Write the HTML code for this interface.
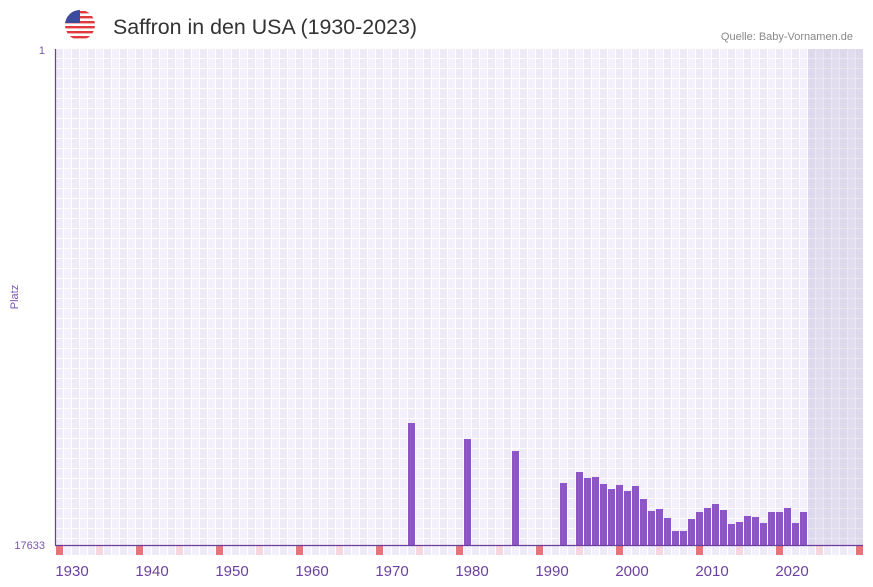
<!DOCTYPE html>
<html><head><meta charset="utf-8"><style>
body{margin:0;background:#fff;}
svg{display:block;font-family:"Liberation Sans",sans-serif;}
</style></head><body>
<svg width="873" height="587" xmlns="http://www.w3.org/2000/svg">
<defs>
<pattern id="g" x="56" y="49" width="16" height="10" patternUnits="userSpaceOnUse">
<rect width="16" height="10" fill="#fff"/>
<rect x="0" y="0" width="7" height="9" fill="#eeeaf8"/>
<rect x="8" y="0" width="7" height="9" fill="#f3f0fb"/>
</pattern>
<pattern id="m" x="56" y="546" width="16" height="10" patternUnits="userSpaceOnUse">
<rect width="16" height="10" fill="#fff"/>
<rect x="0" y="0" width="7" height="9" fill="#eeeaf8"/>
<rect x="8" y="0" width="7" height="9" fill="#f3f0fb"/>
</pattern>
<clipPath id="fc"><circle cx="80" cy="25" r="15"/></clipPath>
</defs>
<rect x="56" y="49" width="807" height="496" fill="url(#g)"/>
<rect x="808" y="49" width="55" height="496" fill="#b8aed0" opacity="0.3"/>
<rect x="56" y="546" width="807" height="9" fill="url(#m)"/>
<g fill="#e8737c">
<rect x="56" y="546" width="7" height="9"/><rect x="136" y="546" width="7" height="9"/><rect x="216" y="546" width="7" height="9"/><rect x="296" y="546" width="7" height="9"/><rect x="376" y="546" width="7" height="9"/><rect x="456" y="546" width="7" height="9"/><rect x="536" y="546" width="7" height="9"/><rect x="616" y="546" width="7" height="9"/><rect x="696" y="546" width="7" height="9"/><rect x="776" y="546" width="7" height="9"/><rect x="856" y="546" width="7" height="9"/>
</g>
<g fill="#f5d6df">
<rect x="96" y="546" width="7" height="9"/><rect x="176" y="546" width="7" height="9"/><rect x="256" y="546" width="7" height="9"/><rect x="336" y="546" width="7" height="9"/><rect x="416" y="546" width="7" height="9"/><rect x="496" y="546" width="7" height="9"/><rect x="576" y="546" width="7" height="9"/><rect x="656" y="546" width="7" height="9"/><rect x="736" y="546" width="7" height="9"/><rect x="816" y="546" width="7" height="9"/>
</g>
<g fill="#8e55c8">
<rect x="408" y="423" width="7" height="122"/>
<rect x="464" y="439" width="7" height="106"/>
<rect x="512" y="451" width="7" height="94"/>
<rect x="560" y="483" width="7" height="62"/>
<rect x="576" y="472" width="7" height="73"/>
<rect x="584" y="478" width="7" height="67"/>
<rect x="592" y="477" width="7" height="68"/>
<rect x="600" y="484" width="7" height="61"/>
<rect x="608" y="489" width="7" height="56"/>
<rect x="616" y="485" width="7" height="60"/>
<rect x="624" y="491" width="7" height="54"/>
<rect x="632" y="486" width="7" height="59"/>
<rect x="640" y="499" width="7" height="46"/>
<rect x="648" y="511" width="7" height="34"/>
<rect x="656" y="509" width="7" height="36"/>
<rect x="664" y="518" width="7" height="27"/>
<rect x="672" y="531" width="7" height="14"/>
<rect x="680" y="531" width="7" height="14"/>
<rect x="688" y="519" width="7" height="26"/>
<rect x="696" y="512" width="7" height="33"/>
<rect x="704" y="508" width="7" height="37"/>
<rect x="712" y="504" width="7" height="41"/>
<rect x="720" y="510" width="7" height="35"/>
<rect x="728" y="524" width="7" height="21"/>
<rect x="736" y="522" width="7" height="23"/>
<rect x="744" y="516" width="7" height="29"/>
<rect x="752" y="517" width="7" height="28"/>
<rect x="760" y="523" width="7" height="22"/>
<rect x="768" y="512" width="7" height="33"/>
<rect x="776" y="512" width="7" height="33"/>
<rect x="784" y="508" width="7" height="37"/>
<rect x="792" y="523" width="7" height="22"/>
<rect x="800" y="512" width="7" height="33"/>
</g>
<line x1="55.5" y1="49" x2="55.5" y2="545" stroke="#6a3d9a" stroke-width="1.2"/>
<line x1="55" y1="545.5" x2="863" y2="545.5" stroke="#6a3d9a" stroke-width="1.2"/>
<text x="45" y="54" font-size="11" fill="#7a56b0" text-anchor="end">1</text>
<text x="45" y="549" font-size="11" fill="#7a56b0" text-anchor="end">17633</text>
<text x="18" y="297" font-size="11" fill="#7a56b0" text-anchor="middle" transform="rotate(-90 18 297)">Platz</text>
<g font-size="15" fill="#6b3fa0" text-anchor="middle">
<text x="72" y="576">1930</text><text x="152" y="576">1940</text><text x="232" y="576">1950</text><text x="312" y="576">1960</text><text x="392" y="576">1970</text><text x="472" y="576">1980</text><text x="552" y="576">1990</text><text x="632" y="576">2000</text><text x="712" y="576">2010</text><text x="792" y="576">2020</text>
</g>
<g clip-path="url(#fc)">
<rect x="65" y="10" width="30" height="30" fill="#fff"/>
<rect x="65" y="11" width="30" height="2.4" fill="#e03a3e"/>
<rect x="65" y="16" width="30" height="2.4" fill="#e03a3e"/>
<rect x="65" y="21" width="30" height="2.4" fill="#e03a3e"/>
<rect x="65" y="26" width="30" height="2.4" fill="#e03a3e"/>
<rect x="65" y="31" width="30" height="2.4" fill="#e03a3e"/>
<rect x="65" y="36" width="30" height="2.4" fill="#e03a3e"/>
<rect x="65" y="10" width="15" height="13" fill="#3c4a9e"/>
</g>
<text x="113" y="34" font-size="21" fill="#333" textLength="304" lengthAdjust="spacingAndGlyphs">Saffron in den USA (1930-2023)</text>
<text x="853" y="40" font-size="11" fill="#888" text-anchor="end">Quelle: Baby-Vornamen.de</text>
</svg>
</body></html>
